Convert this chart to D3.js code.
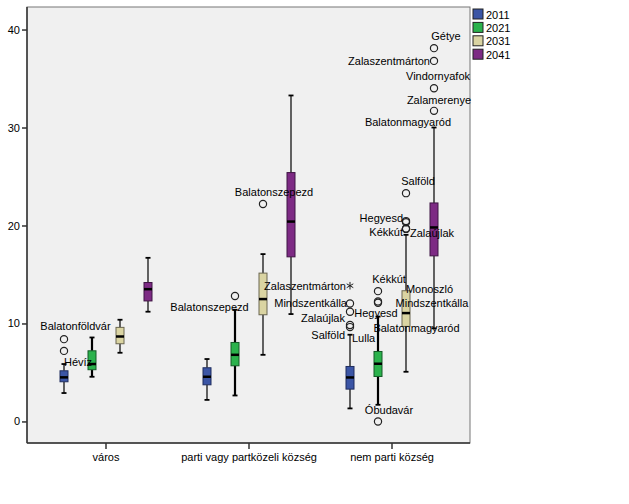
<!DOCTYPE html>
<html><head><meta charset="utf-8">
<script src="https://cdn.jsdelivr.net/npm/d3@7"></script>
<style>body{margin:0;background:#fff}svg{display:block;font-family:"Liberation Sans",Arial,sans-serif}</style>
</head><body><svg id="c" width="629" height="504"></svg>
<script>
const categories = ["város", "parti vagy partközeli község", "nem parti község"];
const years = ["2011", "2021", "2031", "2041"];
const yTicks = [0, 10, 20, 30, 40];
// [lower whisker, Q1, median, Q3, upper whisker] per category
const box2011 = [[2.9, 4.05, 4.5, 5.17, 5.86], [2.2, 3.74, 4.56, 5.48, 6.37], [1.33, 3.3, 4.49, 5.61, 8.85]];
const box2021 = [[4.56, 5.28, 5.86, 7.21, 8.57], [2.65, 5.68, 6.8, 8.06, 11.4], [1.7, 4.59, 5.89, 7.14, 10.7]];
const box2031 = [[7.01, 7.93, 8.67, 9.6, 10.38], [6.8, 10.89, 12.49, 15.14, 17.08], [5.07, 9.7, 11.06, 13.34, 19.05]];
const box2041 = [[11.2, 12.3, 13.5, 14.18, 16.7], [10.96, 16.8, 20.4, 25.4, 33.27], [9.5, 16.9, 19.8, 22.3, 30.0]];
// outliers: [category index, year, value, name, kind]
const outliers = [
  [0, "2011", 8.4, "Balatonföldvár", "o"],
  [0, "2011", 7.2, "Hévíz", "o"],
  [1, "2021", 12.8, "Balatonszepezd", "o"],
  [1, "2031", 22.2, "Balatonszepezd", "o"],
  [2, "2011", 13.85, "Zalaszentmárton", "*"],
  [2, "2011", 12.04, "Mindszentkálla", "o"],
  [2, "2011", 11.19, "Zalaújlak", "o"],
  [2, "2011", 9.84, "Salföld", "o"],
  [2, "2011", 9.63, "Lulla", "o"],
  [2, "2021", 13.3, "Kékkút", "o"],
  [2, "2021", 12.25, "Hegyesd", "o"],
  [2, "2021", 12.12, "", "o"],
  [2, "2021", 0.0, "Óbudavár", "o"],
  [2, "2031", 23.3, "Salföld", "o"],
  [2, "2031", 20.45, "Hegyesd", "o"],
  [2, "2031", 20.33, "", "o"],
  [2, "2031", 19.7, "Kékkút", "o"],
  [2, "2031", 19.65, "Zalaújlak", "o"],
  [2, "2041", 38.1, "Gétye", "o"],
  [2, "2041", 36.8, "Zalaszentmárton", "o"],
  [2, "2041", 34.0, "Vindornyafok", "o"],
  [2, "2041", 31.7, "Zalamerenye", "o"]
];
// labels without a visible marker: [category index, year, value, name]
const extraLabels = [
  [2, "2041", 30.6, "Balatonmagyaród"],
  [2, "2041", 13.5, "Monoszló"],
  [2, "2041", 12.06, "Mindszentkálla"],
  [2, "2041", 9.51, "Balatonmagyaród"]
];
// label placement relative to its point: [dx, dy, anchor]
const outlierLabelPos = [
  [11.5, -12.7, "middle"], [14, 11, "middle"], [-25.5, 11, "middle"], [11, -12, "middle"],
  [-4, 0, "end"], [-3, 0, "end"], [-5, 6, "end"], [-5, 10, "end"], [2, 11, "start"],
  [11, -12, "middle"], [-2, 12, "middle"], [0, 0, "middle"], [11, -11, "middle"],
  [12, -12, "middle"], [-3, -3, "end"], [0, 0, "middle"], [-3, 4, "end"], [4, 4, "start"],
  [12, -12, "middle"], [-4, 0, "end"], [-28, -12.5, "start"], [5, -11, "middle"]
];
const extraLabelPos = [[-26, 0], [-4.5, 0], [-2, 0], [-17.5, 0]];

const colors = {"2011": "#3b55a5", "2021": "#2bb24c", "2031": "#dad4a2", "2041": "#7d2a84"};
const strokes = {"2011": "#1f2d5e", "2021": "#145a26", "2031": "#6b6750", "2041": "#3f1444"};
const boxes = {"2011": box2011, "2021": box2021, "2031": box2031, "2041": box2041};

const L = 27, R = 470, T = 7, B = 443;
const svg = d3.select("#c");
const x = d3.scaleBand().domain(categories).range([34.5, 463.5]);
const xi = d3.scaleBand().domain(years).range([x.bandwidth() / 2 - 56, x.bandwidth() / 2 + 56]);
const y = d3.scaleLinear().domain([-2.2, 42.3]).range([B, T]);
const cx = (ci, yr) => x(categories[ci]) + xi(yr) + xi.bandwidth() / 2;

svg.append("rect").attr("x", L).attr("y", T).attr("width", R - L).attr("height", B - T)
  .attr("fill", "#f0f0f0").attr("stroke", "#777").attr("stroke-width", 1);

const bw = 8;
years.forEach(yr => {
  boxes[yr].forEach((s, ci) => {
    const c = cx(ci, yr);
    const g = svg.append("g");
    const wsw = yr === "2021" ? 2.2 : 1.2;
    g.append("line").attr("x1", c).attr("x2", c).attr("y1", y(s[0])).attr("y2", y(s[1]))
      .attr("stroke", "#000").attr("stroke-width", wsw);
    g.append("line").attr("x1", c).attr("x2", c).attr("y1", y(s[3])).attr("y2", y(s[4]))
      .attr("stroke", "#000").attr("stroke-width", wsw);
    [s[0], s[4]].forEach(v => g.append("line").attr("x1", c - 2.5).attr("x2", c + 2.5)
      .attr("y1", y(v)).attr("y2", y(v)).attr("stroke", "#000").attr("stroke-width", 1.8));
    g.append("rect").attr("x", c - bw / 2).attr("y", y(s[3])).attr("width", bw)
      .attr("height", y(s[1]) - y(s[3])).attr("fill", colors[yr]).attr("stroke", strokes[yr]).attr("stroke-width", 1);
    g.append("line").attr("x1", c - bw / 2).attr("x2", c + bw / 2).attr("y1", y(s[2])).attr("y2", y(s[2]))
      .attr("stroke", "#000").attr("stroke-width", 2.5);
  });
});

const star = d3.symbol().type(d3.symbolAsterisk).size(40);
outliers.forEach((o, i) => {
  const px = cx(o[0], o[1]), py = y(o[2]);
  if (o[4] === "*") {
    svg.append("path").attr("d", star()).attr("transform", `translate(${px},${py})`)
      .attr("fill", "none").attr("stroke", "#222").attr("stroke-width", 1);
  } else {
    svg.append("circle").attr("cx", px).attr("cy", py).attr("r", 3.6)
      .attr("fill", "none").attr("stroke", "#222").attr("stroke-width", 1.2);
  }
  if (o[3]) {
    const p = outlierLabelPos[i];
    svg.append("text").attr("x", px + p[0]).attr("y", py + p[1]).attr("text-anchor", p[2])
      .attr("dominant-baseline", "central").attr("font-size", 11).attr("fill", "#000").text(o[3]);
  }
});
extraLabels.forEach((o, i) => {
  const p = extraLabelPos[i];
  svg.append("text").attr("x", cx(o[0], o[1]) + p[0]).attr("y", y(o[2]) + p[1]).attr("text-anchor", "middle")
    .attr("dominant-baseline", "central").attr("font-size", 11).attr("fill", "#000").text(o[3]);
});

// axes
const ya = svg.append("g").attr("transform", `translate(${L},0)`)
  .call(d3.axisLeft(y).tickValues(yTicks).tickSize(5).tickPadding(2).tickFormat(d3.format("d")));
const xa = svg.append("g").attr("transform", `translate(0,${B})`)
  .call(d3.axisBottom(x).tickSize(6).tickPadding(4));
[ya, xa].forEach(a => {
  a.select(".domain").remove();
  a.selectAll("line").attr("stroke", "#333").attr("stroke-width", 1.5);
  a.selectAll("text").attr("font-size", 11).attr("fill", "#000").attr("font-family", '"Liberation Sans",Arial,sans-serif');
});
svg.append("line").attr("x1", L).attr("x2", L).attr("y1", T).attr("y2", B).attr("stroke", "#333").attr("stroke-width", 1.5);
svg.append("line").attr("x1", L).attr("x2", R).attr("y1", B).attr("y2", B).attr("stroke", "#333").attr("stroke-width", 1.5);

// legend
const lg = svg.append("g").attr("transform", "translate(473,9)");
years.forEach((yr, i) => {
  lg.append("rect").attr("x", 0).attr("y", i * 13.4).attr("width", 10).attr("height", 10)
    .attr("fill", colors[yr]).attr("stroke", "#222").attr("stroke-width", 1);
  lg.append("text").attr("x", 13).attr("y", i * 13.4 + 5.5).attr("dominant-baseline", "central")
    .attr("font-size", 11).attr("fill", "#000").text(yr);
});
</script></body></html>
